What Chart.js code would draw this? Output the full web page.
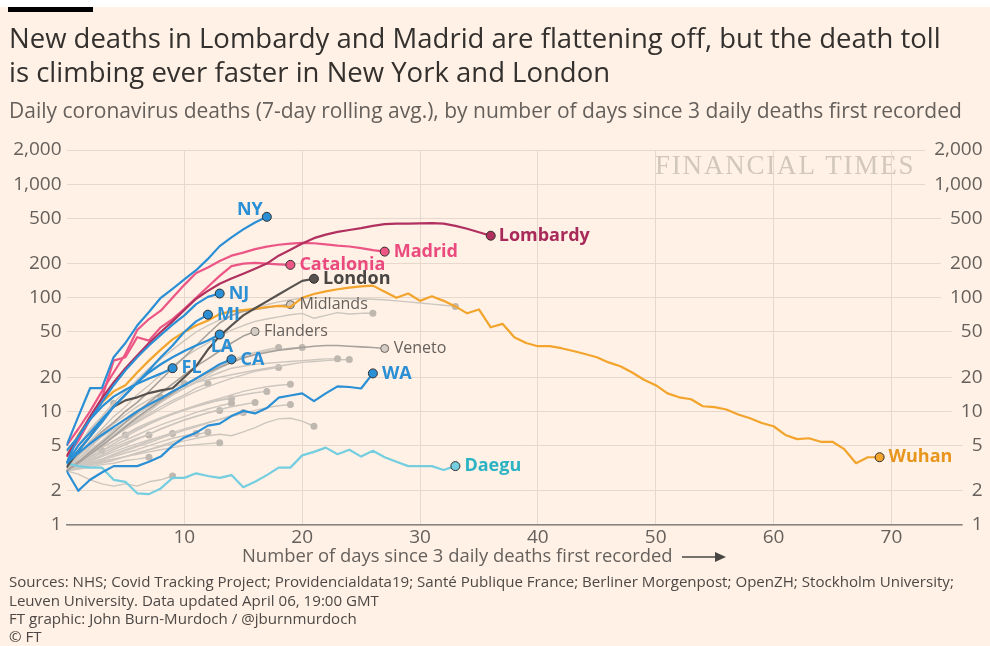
<!DOCTYPE html>
<html>
<head>
<meta charset="utf-8">
<script src="https://cdn.jsdelivr.net/npm/chart.js@4.4.0/dist/chart.umd.min.js"></script>
<style>
  html, body { margin: 0; padding: 0; background: #fff1e5; }
  #wrap { width: 990px; height: 646px; }
</style>
</head>
<body>
<div id="wrap"><canvas id="chart" width="990" height="646"></canvas></div>
<script>
// ticks
const dayTicks = [10, 20, 30, 40, 50, 60, 70];
const deathTicks = [1, 2, 5, 10, 20, 50, 100, 200, 500, 1000, 2000];

// daily deaths (7-day avg), index = days since 3 daily deaths
const newYork = [5, 9, 16, 16, 30, 40, 57, 75, 100, 120, 145, 175, 220, 285, 340, 400, 460, 516];
const newJersey = [4.5, 6, 8.5, 12, 17, 23, 30, 38, 47, 58, 70, 88, 102, 109];
const michigan = [3.5, 4.5, 6, 8, 11, 14, 18, 23, 30, 38, 50, 62, 71];
const louisiana = [3.5, 5, 6.5, 8.5, 11, 14, 18, 22, 26, 30, 34, 38, 42, 47.5];
const california = [3.5, 4.3, 5.2, 6.2, 7.3, 8.5, 10, 11.5, 13, 15, 17, 19.5, 22.5, 26, 28.7];
const florida = [3.5, 6, 8.5, 11, 13.5, 15.5, 17.5, 19.5, 21.5, 24];
const washington = [3.0, 2.0, 2.5, 2.9, 3.3, 3.3, 3.3, 3.6, 4.0, 5.0, 5.9, 6.5, 7.5, 7.8, 9.1, 10.1, 9.6, 10.7, 13.2, 13.8, 14.4, 12.3, 14.4, 16.6, 16.4, 15.9, 21.6];
const lombardy = [4, 6, 9, 13, 18, 24, 31, 40, 50, 62, 78, 98, 115, 133, 148, 163, 180, 200, 235, 265, 300, 335, 360, 380, 395, 410, 430, 445, 450, 450, 452, 455, 450, 430, 405, 378, 352];
const madrid = [5, 7, 10, 15, 22, 32, 52, 65, 77, 100, 130, 165, 185, 211, 235, 250, 268, 282, 293, 300, 305, 302, 295, 288, 283, 274, 263, 255];
const catalonia = [4, 5.5, 8.5, 13, 28, 30, 45, 42, 55, 65, 80, 100, 125, 156, 190, 200, 203, 200, 197, 195];
const london = [3.2, 4.5, 6, 8.4, 11, 12.5, 13.3, 14.5, 15.3, 16, 20, 25, 35, 46, 57, 70, 81, 93, 107, 123, 141, 147];
const midlands = [3.3, 4.2, 5.3, 6.6, 8, 10, 12, 15, 19, 24, 30, 38, 48, 60, 70, 76, 79, 82, 85, 87];
const flanders = [3, 3.6, 4.4, 5.3, 6.5, 8, 9.8, 12, 14.5, 17.5, 21, 25, 29, 34, 40, 46, 50.5];
const veneto = [3, 3.5, 4.2, 5, 6, 7.3, 8.8, 10.5, 12.5, 14.5, 17, 19.5, 22, 24.5, 27, 29.5, 31.5, 33, 34.5, 35.5, 36.5, 37.5, 38, 38, 37.5, 37, 36.5, 35.8];
const daegu = [3.5, 3.3, 3.2, 3.2, 2.5, 2.4, 1.9, 1.87, 2.1, 2.6, 2.6, 2.85, 2.7, 2.6, 2.75, 2.15, 2.4, 2.75, 3.2, 3.2, 4.1, 4.4, 4.8, 4.2, 4.6, 4.0, 4.5, 3.95, 3.6, 3.3, 3.3, 3.3, 3.05, 3.3];
const wuhan = [4, 6.2, 8.7, 12, 15, 17, 22, 28, 35, 43, 50, 57, 63, 72, 76, 78, 80, 83, 85, 83, 100, 108, 114, 119, 123, 126, 128, 113, 100, 109, 94, 103, 94, 84, 73, 79, 55, 59, 45, 40, 37.5, 37.5, 36, 34, 32, 30, 27, 25, 22, 19, 17, 14.4, 13.3, 12.8, 11.1, 10.9, 10.4, 9.4, 8.7, 7.9, 7.4, 6.2, 5.7, 5.8, 5.4, 5.4, 4.65, 3.5, 3.95, 3.95];

// unlabelled regions in the background
const otherRegions = [
  [3.5, 5, 7, 9, 12, 15, 19, 24, 29, 35, 42, 50, 57, 64, 70, 76, 82, 87, 92, 96, 99, 100, 100, 99, 98, 98, 97, 96, 94, 92, 90, 88, 86, 84],
  [3, 4, 5.5, 7, 9, 11, 14, 17, 21, 25, 30, 35, 40, 46, 52, 57, 62, 65, 68, 71, 73, 66, 70, 74, 72, 73, 73],
  [3, 3.8, 4.6, 5.5, 6.8, 8, 9.5, 11, 13, 15, 17, 19.5, 22, 25, 28, 31, 33, 35, 36.5],
  [3, 3.5, 4.2, 5, 6, 7.2, 8.5, 10, 12, 14, 16, 18.5, 21, 24, 27, 30, 32, 34, 35, 36, 36.5],
  [3, 3.6, 4.3, 5.2, 6.2, 7.5, 9, 10.5, 12, 14, 16, 18, 20, 22, 24, 25, 26, 26.5, 27, 27.5, 28, 28.5, 29, 29],
  [3.2, 4, 5, 6, 7, 8, 9.5, 11, 12.5, 14, 16, 18, 19, 20, 21, 22, 23, 24, 25, 26, 27, 27.5, 28, 28.5, 28.6],
  [3, 3.5, 4.2, 5, 6, 7, 8, 9.2, 10.5, 12, 13.5, 15, 16.5, 18, 19.5, 21, 22.5, 23.5, 24.4],
  [3, 3.4, 3.9, 4.5, 5.2, 6, 6.8, 7.7, 8.6, 9.5, 10.4, 11.3, 12.2, 13, 14, 15, 15.8, 16.5, 17, 17.3],
  [3, 3.6, 4.2, 4.8, 5.5, 6.2, 7, 7.8, 8.6, 9.4, 10.2, 11, 11.8, 12.6, 13.4, 14, 14.6, 15],
  [3, 3.3, 3.7, 4.1, 4.6, 5.1, 5.7, 6.3, 7, 7.7, 8.4, 9, 9.7, 10.4, 11, 11.5, 12],
  [3, 3.2, 3.5, 3.8, 4.2, 4.6, 5, 5.5, 6, 6.5, 7, 7.5, 8, 8.5, 9, 9.6, 10.2, 10.8, 11.2, 11.5],
  [3, 3.5, 4.1, 4.8, 5.5, 6.3, 7.2, 8, 8.8, 9.6, 10.4, 11.2, 12, 12.5, 13],
  [3.2, 3.6, 4, 4.5, 5, 5.6, 6.2, 6.9, 7.6, 8.3, 9, 9.8, 10.5, 11.2, 11.8],
  [3, 3.2, 3.5, 3.8, 4.1, 4.5, 4.9, 5.3, 5.8, 6.3, 6.8, 7.3, 7.9, 8.5, 9.2, 9.8],
  [3, 3.3, 3.7, 4.1, 4.6, 5.1, 5.7, 6.3, 7, 7.7, 8.4, 9.1, 9.7, 10.2],
  [3, 3.1, 3.3, 3.5, 3.7, 4, 4.3, 4.6, 5, 5.4, 5.8, 6.2, 6.6],
  [3, 3.2, 3.4, 3.6, 3.8, 4, 4.2, 4.4, 4.6, 4.8, 5, 5.1, 5.2, 5.3],
  [3, 3.2, 3.4, 3.6, 3.8, 4, 4.3, 4.6, 4.9, 5.2, 5.5, 5.8, 6.1, 6.3, 6.1, 6.6, 7.2, 8, 8.6, 8.7, 8.2, 7.4],
  [3, 3.6, 4.3, 5.1, 6, 7, 8.2, 9.5, 11, 12.5, 14, 16, 17.6],
  [3, 3.8, 4.8, 6, 7.3, 8.7, 10.2, 11.8, 13.3],
  [3.3, 4.2, 5.2, 6.4, 7.8, 9.3, 11, 12.7, 14.5, 16.2, 17.6],
  [3.5, 5, 6.8, 9, 11.8],
  [3, 3.3, 3.6, 4, 4.4, 4.8, 5.2, 5.6, 6, 6.4],
  [3, 3.4, 3.8, 4.3, 4.8, 5.3, 5.8, 6.2],
  [3, 3.2, 3.4, 3.7, 4, 4.3, 4.6, 5, 5.4, 5.8, 6.1, 6.4],
  [3, 2.8, 2.5, 2.3, 2.2, 2.3, 2.2, 2.4, 2.5, 2.7],
  [3, 3.6, 4.2, 4.9, 5.5, 6.2],
  [3, 3.5, 4, 4.5],
  [3, 3.1, 3.2, 3.4, 3.5, 3.7, 3.8, 3.95]
];

const BG = '#fff1e5';
const GRID = '#e6d8cc';
const BLUE = '#2a8fd5';
const PINK = '#ec5686';
const MIDGREY = '#a7a19c';

// highlighted series: style + label placement
const highlighted = [
  { label: 'NY', values: newYork, color: BLUE, text: BLUE, dx: -4, dy: -7, align: 'right' },
  { label: 'NJ', values: newJersey, color: BLUE, text: BLUE },
  { label: 'MI', values: michigan, color: BLUE, text: BLUE },
  { label: 'LA', values: louisiana, color: BLUE, text: BLUE, dx: -9, dy: 12 },
  { label: 'CA', values: california, color: BLUE, text: BLUE },
  { label: 'FL', values: florida, color: BLUE, text: BLUE },
  { label: 'WA', values: washington, color: BLUE, text: BLUE },
  { label: 'Lombardy', values: lombardy, color: '#b0305f', text: '#a82a5a', dx: 8 },
  { label: 'Madrid', values: madrid, color: PINK, text: '#ea4a7e' },
  { label: 'Catalonia', values: catalonia, color: PINK, text: '#ea4a7e' },
  { label: 'London', values: london, color: '#56524f', text: '#4a4643' },
  { label: 'Midlands', values: midlands, color: MIDGREY, text: '#66605c', grey: true },
  { label: 'Flanders', values: flanders, color: MIDGREY, text: '#66605c', grey: true },
  { label: 'Veneto', values: veneto, color: MIDGREY, text: '#66605c', grey: true },
  { label: 'Daegu', values: daegu, color: '#74cee0', text: '#2bb3c3' },
  { label: 'Wuhan', values: wuhan, color: '#f2a42d', text: '#e8951d' }
];

function toPoints(values) {
  return values.map((v, i) => ({ x: i, y: v }));
}

function endOnly(values, r) {
  return c => (c.dataIndex === values.length - 1 ? r : 0);
}

const datasets = [];
highlighted.forEach(s => {
  datasets.push({
    label: s.label,
    data: toPoints(s.values),
    borderColor: s.color,
    borderWidth: s.grey ? 1.6 : 2.2,
    borderJoinStyle: 'round',
    pointRadius: endOnly(s.values, s.grey ? 4 : 4.5),
    pointBackgroundColor: s.grey ? '#d3ccc5' : s.color,
    pointBorderColor: s.grey ? '#6b6560' : '#33302e',
    pointBorderWidth: 1,
    order: s.grey ? 1 : 0
  });
});
otherRegions.forEach((vals, i) => {
  datasets.push({
    label: 'other' + i,
    data: toPoints(vals),
    borderColor: '#cdc6bf',
    borderWidth: 1.4,
    borderJoinStyle: 'round',
    pointRadius: endOnly(vals, 3.5),
    pointBackgroundColor: '#bfb8b1',
    pointBorderWidth: 0,
    order: 2
  });
});

const labelFont = 'bold 18px "Open Sans"';

const ftDecor = {
  id: 'ftDecor',
  beforeDraw(chart) {
    const c = chart.ctx;
    c.save();
    c.fillStyle = BG;
    c.fillRect(0, 0, chart.width, chart.height);
    c.fillStyle = '#ffffff';
    c.fillRect(0, 0, chart.width, 7);
    c.fillStyle = '#000000';
    c.fillRect(8, 7, 85, 5);

    c.textBaseline = 'middle';
    c.fillStyle = '#33302e';
    c.font = '27.5px "Open Sans"';
    c.fillText('New deaths in Lombardy and Madrid are flattening off, but the death toll', 9, 40);
    c.fillText('is climbing ever faster in New York and London', 9, 74);
    c.fillStyle = '#66605c';
    c.font = '21px "Open Sans"';
    c.fillText('Daily coronavirus deaths (7-day rolling avg.), by number of days since 3 daily deaths first recorded', 9, 112);

    c.fillStyle = '#d2c7bd';
    c.font = '27px "Liberation Serif"';
    c.letterSpacing = '1.8px';
    c.fillText('FINANCIAL TIMES', 655, 167);
    c.letterSpacing = '0px';

    c.fillStyle = '#66605c';
    c.font = '18.4px "Open Sans"';
    c.fillText('Number of days since 3 daily deaths first recorded', 242, 557);
    c.strokeStyle = '#4a4643';
    c.lineWidth = 1.5;
    c.beginPath();
    c.moveTo(682, 557);
    c.lineTo(718, 557);
    c.stroke();
    c.fillStyle = '#4a4643';
    c.beginPath();
    c.moveTo(726, 557);
    c.lineTo(715, 552);
    c.lineTo(715, 562);
    c.closePath();
    c.fill();

    c.fillStyle = '#4d4845';
    c.font = '15.1px "Open Sans"';
    c.fillText('Sources: NHS; Covid Tracking Project; Providencialdata19; Santé Publique France; Berliner Morgenpost; OpenZH; Stockholm University;', 9, 583);
    c.fillText('Leuven University. Data updated April 06, 19:00 GMT', 9, 602);
    c.fillText('FT graphic: John Burn-Murdoch / @jburnmurdoch', 9, 620);
    c.fillText('© FT', 9, 638);
    c.restore();
  },
  afterDatasetsDraw(chart) {
    const c = chart.ctx;
    c.save();
    c.textBaseline = 'middle';
    highlighted.forEach((s, i) => {
      const meta = chart.getDatasetMeta(i);
      const pt = meta.data[meta.data.length - 1];
      c.font = s.grey ? '16px "Open Sans"' : labelFont;
      c.fillStyle = s.text;
      c.textAlign = s.align || 'left';
      c.fillText(s.label, pt.x + (s.dx !== undefined ? s.dx : 9), pt.y + (s.dy || 0));
    });
    c.restore();
  }
};

const tickFont = { family: 'Open Sans', size: 19 };
const logTicks = scale => { scale.ticks = deathTicks.map(v => ({ value: v })); };
const fmt = v => Number(v).toLocaleString('en-US');

new Chart(document.getElementById('chart'), {
  type: 'line',
  data: { datasets },
  options: {
    responsive: false,
    animation: false,
    events: [],
    layout: { padding: { top: 150, bottom: 99, left: 0, right: 3 } },
    plugins: { legend: { display: false }, tooltip: { enabled: false } },
    scales: {
      x: {
        type: 'linear',
        min: 0,
        max: 77.9,
        afterBuildTicks: scale => { scale.ticks = dayTicks.map(v => ({ value: v })); },
        afterFit: scale => { scale.height = 22; },
        grid: { color: GRID, drawTicks: false },
        border: { color: '#8a8480', width: 1.5 },
        ticks: { color: '#66605c', font: tickFont, padding: 1 }
      },
      y: {
        type: 'logarithmic',
        position: 'left',
        min: 1,
        max: 2000,
        afterBuildTicks: logTicks,
        afterFit: scale => { scale.width = 66.5; },
        grid: { color: GRID, drawTicks: false },
        border: { display: false },
        ticks: { color: '#66605c', font: tickFont, padding: 5, callback: fmt }
      },
      y2: {
        type: 'logarithmic',
        position: 'right',
        min: 1,
        max: 2000,
        afterBuildTicks: logTicks,
        afterFit: scale => { scale.width = 0; },
        grid: { display: false },
        border: { display: false },
        ticks: {
          color: '#66605c', font: tickFont, mirror: true, padding: -2, z: 1,
          showLabelBackdrop: true, backdropColor: BG,
          backdropPadding: { left: 9, right: 3, top: 0, bottom: 0 },
          callback: fmt
        }
      }
    }
  },
  plugins: [ftDecor]
});
</script>
</body>
</html>
